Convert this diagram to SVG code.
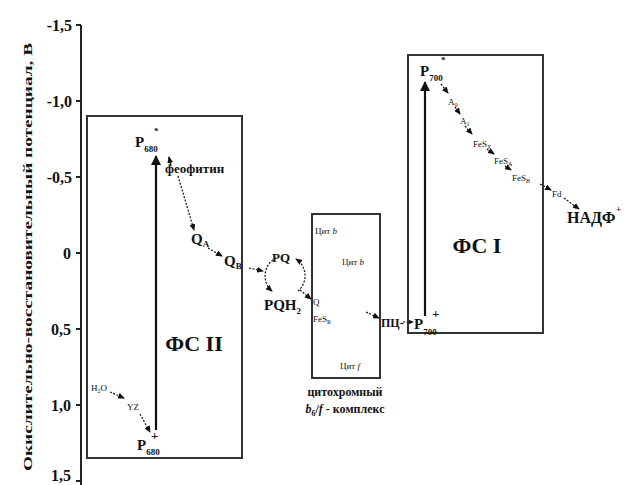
<svg xmlns="http://www.w3.org/2000/svg" width="625" height="485" viewBox="0 0 625 485">
<defs>
<marker id="big" markerUnits="userSpaceOnUse" markerWidth="10" markerHeight="12" refX="9" refY="5" orient="auto"><path d="M0,0 L10,5 L0,10 Z" fill="#111"/></marker>
<marker id="sm" markerUnits="userSpaceOnUse" markerWidth="7" markerHeight="6" refX="6" refY="3" orient="auto"><path d="M0,0 L7,3 L0,6 Z" fill="#111"/></marker>
<style>
text{font-family:"Liberation Serif","Times New Roman",serif;fill:#111;font-weight:bold}
.box{fill:none;stroke:#333;stroke-width:2}
.axis{stroke:#222;stroke-width:2;fill:none}
.tick{font-size:16px;text-anchor:end}
.main{stroke:#111;stroke-width:2.2;fill:none;marker-end:url(#big)}
.ch{stroke:#111;stroke-width:1.2;stroke-dasharray:2 1.5;fill:none;marker-end:url(#sm)}
.sol{stroke:#111;stroke-width:1.3;fill:none;marker-end:url(#sm)}
.big{font-size:15px}
.mid{font-size:13px}
.sml{font-size:9px;font-weight:normal}
.ps{font-size:22px;text-anchor:middle}
.sub{font-size:9px}
</style>
</defs>

<g id="axis">
<line class="axis" x1="81" y1="25" x2="81" y2="485"/>
<path class="axis" d="M76,25H81M76,101H81M76,177H81M76,253H81M76,329H81M76,405H81M76,481H81"/>
<text class="tick" x="72" y="31">-1,5</text>
<text class="tick" x="72" y="107">-1,0</text>
<text class="tick" x="72" y="183">-0,5</text>
<text class="tick" x="71" y="259">0</text>
<text class="tick" x="71" y="335">0,5</text>
<text class="tick" x="71" y="411">1,0</text>
<text class="tick" x="71" y="481">1,5</text>
<text x="32" y="257" font-size="13" text-anchor="middle" transform="rotate(-90 32 257)" textLength="428" lengthAdjust="spacingAndGlyphs">Окислительно-восстановительный потенциал, В</text>
</g>

<g id="connectors">
<line class="main" x1="156" y1="430" x2="156" y2="156"/>
<line class="main" x1="425" y1="316" x2="425" y2="82"/>
<line class="sol" x1="171" y1="166" x2="169" y2="157"/>
<line class="ch" x1="178" y1="176" x2="194" y2="230"/>
<line class="ch" x1="208" y1="248" x2="222" y2="256"/>
<line class="ch" x1="249" y1="268" x2="263" y2="271"/>
<path class="ch" d="M276,258 A20,20 0 0 0 272,291"/>
<path class="ch" d="M298,291 A20,20 0 0 0 296,259"/>
<line class="ch" x1="300" y1="290" x2="311" y2="299"/>
<line class="ch" x1="366" y1="312" x2="379" y2="318"/>
<line class="ch" x1="403" y1="322" x2="413" y2="322"/>
<line class="ch" x1="110" y1="392" x2="124" y2="398"/>
<line class="ch" x1="140" y1="414" x2="150" y2="432"/>
<line class="ch" x1="441" y1="84" x2="448" y2="93"/>
<line class="ch" x1="455" y1="107" x2="460" y2="114"/>
<line class="ch" x1="465" y1="126" x2="472" y2="134"/>
<line class="ch" x1="487" y1="149" x2="494" y2="154"/>
<line class="ch" x1="505" y1="166" x2="511" y2="170"/>
<line class="ch" x1="540" y1="184" x2="551" y2="190"/>
<line class="ch" x1="564" y1="198" x2="579" y2="209"/>
</g>

<g id="PSII">
<rect class="box" x="87" y="116" width="155" height="342"/>
<text class="ps" x="194" y="351">ФС II</text>
</g>
<g id="P680star"><text class="big" x="135" y="147">P<tspan class="sub" dy="5">680</tspan></text><text class="sub" x="154" y="134">*</text></g>
<g id="pheophytin"><text class="mid" x="165" y="173">феофитин</text></g>
<g id="QA"><text class="big" x="191" y="244">Q<tspan class="sub" dy="3">A</tspan></text></g>
<g id="QB"><text class="big" x="224" y="266">Q<tspan class="sub" dy="3">B</tspan></text></g>
<g id="PQ"><text class="mid" x="272" y="262">PQ</text></g>
<g id="PQH2"><text class="big" x="264" y="310">PQH<tspan class="sub" dy="4">2</tspan></text></g>
<g id="H2O"><text class="sml" x="91" y="391">H<tspan font-size="6" dy="2">2</tspan><tspan dy="-2">O</tspan></text></g>
<g id="YZ"><text class="sml" x="127" y="410">YZ</text></g>
<g id="P680plus"><text class="big" x="137" y="450">P<tspan class="sub" dy="5">680</tspan></text><text class="mid" x="151" y="440">+</text></g>

<g id="cytb6f">
<rect class="box" x="312" y="214" width="68" height="164" stroke-width="2.6"/>
<text class="sml" x="315" y="234">Цит <tspan font-style="italic">b</tspan></text>
<text class="sml" x="342" y="265">Цит <tspan font-style="italic">b</tspan></text>
<text class="sml" x="340" y="369">Цит <tspan font-style="italic">f</tspan></text>
<text x="345" y="396" font-size="12" text-anchor="middle">цитохромный</text>
<text x="345" y="413" font-size="12" text-anchor="middle"><tspan font-style="italic">b</tspan><tspan font-size="8" dy="3">6</tspan><tspan dy="-3">/</tspan><tspan font-style="italic">f</tspan> - комплекс</text>
</g>
<g id="Q"><text class="sml" x="313" y="305">Q</text></g>
<g id="FeSR"><text class="sml" x="313" y="322">FeS<tspan font-size="6" dy="2">R</tspan></text></g>
<g id="PC"><text x="381" y="327" font-size="12">ПЦ-</text></g>

<g id="PSI">
<rect class="box" x="408" y="55" width="135" height="278"/>
<text class="ps" x="477" y="253">ФС I</text>
</g>
<g id="P700star"><text class="big" x="420" y="76">P<tspan class="sub" dy="5">700</tspan></text><text class="sub" x="441" y="63">*</text></g>
<g id="P700plus"><text class="big" x="414" y="329">P<tspan class="sub" dy="6">700</tspan></text><text class="mid" x="432" y="318">+</text></g>
<g id="A0"><text class="sml" x="448" y="105" font-size="8">A<tspan font-size="6" dy="2">0</tspan></text></g>
<g id="A1"><text class="sml" x="460" y="124" font-size="8">A<tspan font-size="6" dy="2">1</tspan></text></g>
<g id="FeSX"><text class="sml" x="473" y="147" font-size="8">FeS<tspan font-size="6" dy="2">X</tspan></text></g>
<g id="FeSA"><text class="sml" x="494" y="164" font-size="8">FeS<tspan font-size="6" dy="2">A</tspan></text></g>
<g id="FeSB"><text class="sml" x="512" y="181" font-size="8">FeS<tspan font-size="6" dy="2">B</tspan></text></g>
<g id="Fd"><text class="sml" x="552" y="197" font-size="8">Fd</text></g>
<g id="NADP"><text x="567" y="223" font-size="16">НАДФ</text><text class="sub" x="616" y="212">+</text></g>
</svg>
